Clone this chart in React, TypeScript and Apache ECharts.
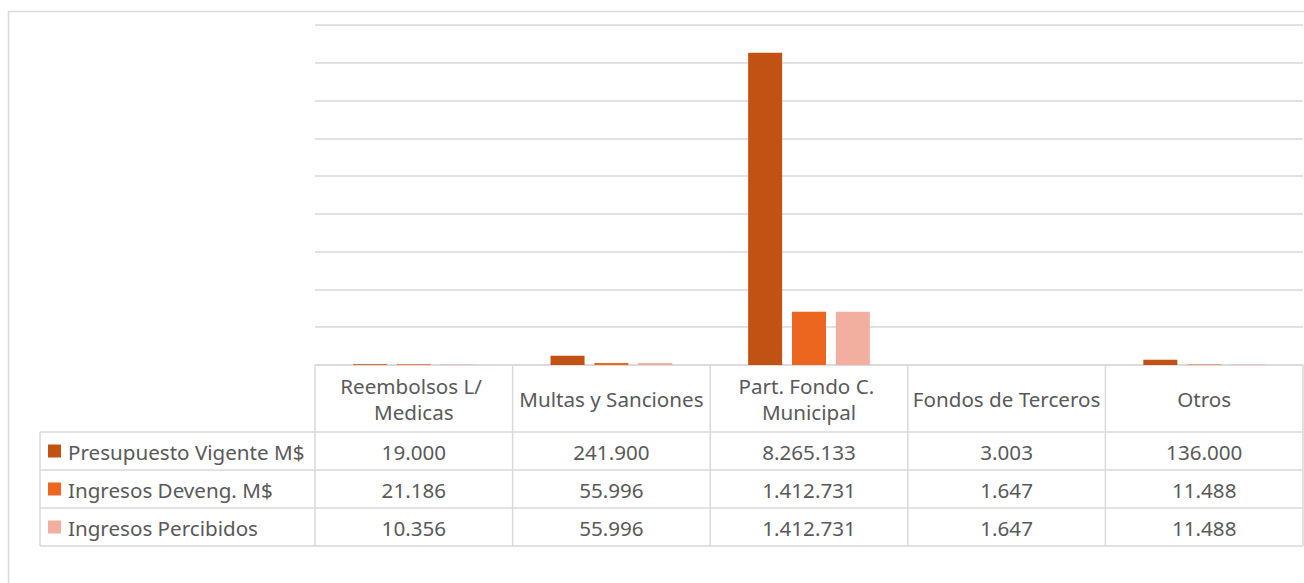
import React, { useEffect, useRef } from "react";
import * as echarts from "echarts";

const categories = [
  "Reembolsos L/ Medicas",
  "Multas y Sanciones",
  "Part. Fondo C. Municipal",
  "Fondos de Terceros",
  "Otros",
];
const seriesNames = ["Presupuesto Vigente M$", "Ingresos Deveng. M$", "Ingresos Percibidos"];
const presupuesto = [19000, 241900, 8265133, 3003, 136000];
const devengados = [21186, 55996, 1412731, 1647, 11488];
const percibidos = [10356, 55996, 1412731, 1647, 11488];
const colors = ["#C25114", "#EC661F", "#F2AFA0"];

const fmt = (v: number) => String(Math.round(v)).replace(/\B(?=(\d{3})+(?!\d))/g, ".");

const W = 1304;
const H = 583;
const GRID_LEFT = 315;
const GRID_RIGHT_X = 1303;
const GRID_TOP = 25;
const GRID_BOTTOM_Y = 365;
const HEADER_BOTTOM = 432;
const ROW_H = 38;
const TABLE_LEFT = 40;
const FONT = "'Noto Sans', 'Open Sans', sans-serif";
const FS = 20.6;
const TEXT = "#595959";
const LINE = "#d9d9d9";

export default function App() {
  const ref = useRef<HTMLDivElement>(null);
  useEffect(() => {
    if (!ref.current) return;
    const chart = echarts.init(ref.current, undefined, { renderer: "svg" });
    const allSeries = [presupuesto, devengados, percibidos];
    const colW = (GRID_RIGHT_X - GRID_LEFT) / categories.length;
    const graphics: any[] = [];
    graphics.push({
      type: "rect",
      shape: { x: 8.5, y: 11.5, width: 1400, height: 700 },
      style: { fill: "none", stroke: LINE, lineWidth: 1.5 },
      silent: true,
    });
    const tableBottom = HEADER_BOTTOM + ROW_H * allSeries.length;
    for (let r = 0; r <= allSeries.length; r++) {
      const y = HEADER_BOTTOM + r * ROW_H;
      graphics.push({
        type: "line",
        shape: { x1: TABLE_LEFT, y1: y, x2: GRID_RIGHT_X, y2: y },
        style: { stroke: LINE, lineWidth: 1.5 },
        silent: true,
      });
    }
    for (let c = 0; c <= categories.length; c++) {
      const x = GRID_LEFT + c * colW;
      graphics.push({
        type: "line",
        shape: { x1: x, y1: GRID_BOTTOM_Y, x2: x, y2: tableBottom },
        style: { stroke: LINE, lineWidth: 1.5 },
        silent: true,
      });
    }
    graphics.push({
      type: "line",
      shape: { x1: TABLE_LEFT, y1: HEADER_BOTTOM, x2: TABLE_LEFT, y2: tableBottom },
      style: { stroke: LINE, lineWidth: 1.5 },
      silent: true,
    });
    allSeries.forEach((vals, r) => {
      const cy = HEADER_BOTTOM + r * ROW_H + ROW_H / 2;
      graphics.push({
        type: "rect",
        shape: { x: 48, y: cy - 6.5, width: 13, height: 13 },
        style: { fill: colors[r] },
        silent: true,
      });
      graphics.push({
        type: "text",
        x: 68,
        y: cy + 1,
        style: {
          text: seriesNames[r],
          fill: TEXT,
          font: `${FS}px ${FONT}`,
          align: "left",
          verticalAlign: "middle",
        },
        silent: true,
      });
      vals.forEach((v, c) => {
        graphics.push({
          type: "text",
          x: GRID_LEFT + (c + 0.5) * colW,
          y: cy + 1,
          style: {
            text: fmt(v),
            fill: TEXT,
            font: `${FS}px ${FONT}`,
            align: "center",
            verticalAlign: "middle",
          },
          silent: true,
        });
      });
    });

    chart.setOption({
      animation: false,
      grid: {
        left: GRID_LEFT,
        right: W - GRID_RIGHT_X,
        top: GRID_TOP,
        bottom: H - GRID_BOTTOM_Y,
      },
      xAxis: {
        type: "category",
        data: categories,
        axisLine: { show: true, lineStyle: { color: LINE, width: 1.5 } },
        axisTick: { show: false },
        axisLabel: {
          interval: 0,
          color: TEXT,
          fontFamily: FONT,
          fontSize: FS,
          lineHeight: 26,
          width: 192,
          overflow: "break",
          margin: 34,
          verticalAlign: "middle",
          align: "center",
        },
      },
      yAxis: {
        type: "value",
        min: 0,
        max: 9000000,
        interval: 1000000,
        axisLabel: { show: false },
        axisLine: { show: false },
        axisTick: { show: false },
        splitLine: { lineStyle: { color: LINE, width: 1.5 } },
      },
      series: allSeries.map((vals, i) => ({
        name: seriesNames[i],
        type: "bar",
        data: vals,
        barWidth: 34,
        barGap: "29%",
        itemStyle: { color: colors[i] },
      })),
      graphic: graphics,
    });
    return () => chart.dispose();
  }, []);
  return (
    <div
      ref={ref}
      style={{ position: "absolute", left: 0, top: 0, width: W, height: H, background: "#fff" }}
    />
  );
}
